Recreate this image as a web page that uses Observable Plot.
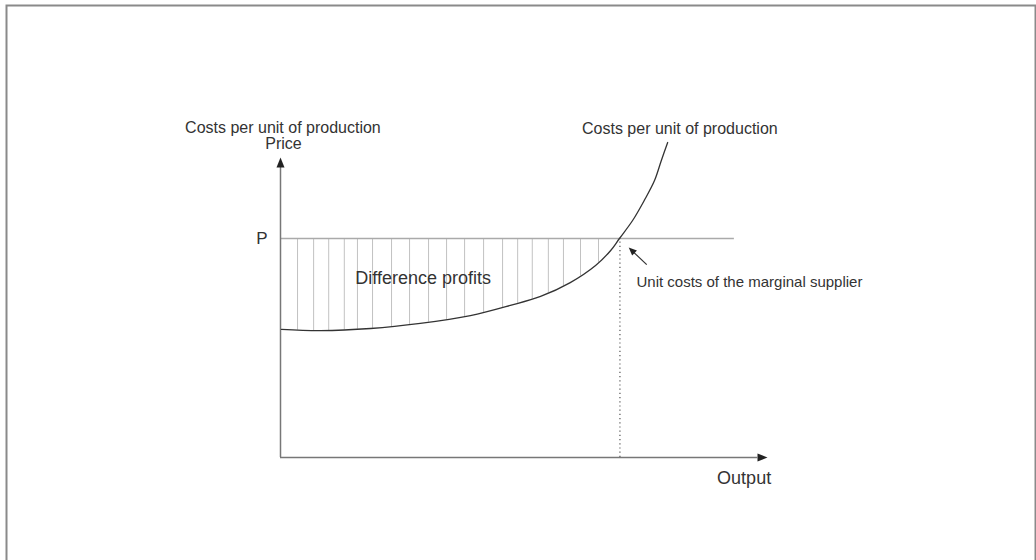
<!DOCTYPE html>
<html><head><meta charset="utf-8">
<script src="https://cdn.jsdelivr.net/npm/d3@7"></script>
<script src="https://cdn.jsdelivr.net/npm/@observablehq/plot@0.6"></script>
<style>html,body{margin:0;padding:0;background:#fff;} svg{display:block}</style>
</head><body><div id="chart"></div>
<script>
// Output (x, 0..100 = origin..arrow tip) and unit cost (y, 0..100 = origin..arrow tip)
const output   = [0.2, 8.2, 18.5, 28.7, 39.0, 47.2, 53.4, 59.5, 64.7, 67.8, 69.6, 72.3, 74.7, 76.8, 78.2, 79.5];
const unitCost = [42.7, 42.3, 43.0, 44.7, 47.3, 50.7, 53.7, 58.3, 64.0, 69.0, 73.0, 79.0, 85.7, 92.3, 99.0, 105.0];
const price = 73;
const marginalOutput = 69.7;
const hatchOutput = [3.5, 6.8, 9.9, 13.1, 15.8, 18.9, 22.8, 26.5, 30.4, 34.1, 37.8, 41.7, 45.6, 48.7, 51.7, 55.0, 58.1, 61.6, 65.3];
const yTitle = ["Costs per unit of production", "Price"];
const curveLabel = "Costs per unit of production";
const areaLabel = "Difference profits";
const marginalLabel = "Unit costs of the marginal supplier";
const xTitle = "Output";
const priceLabel = "P";

const curve = output.map((q, i) => ({q, c: unitCost[i]}));
const font = "Liberation Sans, Arial, Helvetica, sans-serif";
const tri = {draw(ctx, l, r) { ctx.moveTo(0, -l); ctx.lineTo(-r, 0); ctx.lineTo(r, 0); ctx.closePath(); }};

const chart = Plot.plot({
  width: 1036, height: 560, margin: 0,
  x: {domain: [0, 100], range: [280, 767], axis: null},
  y: {domain: [0, 100], range: [457, 157], axis: null},
  style: {fontFamily: font, background: "white"},
  marks: [
    Plot.frame({stroke: "#8a8a8a", strokeWidth: 2, insetLeft: 6, insetTop: 5, insetRight: 1, insetBottom: -8}),
    Plot.ruleX(hatchOutput, {y1: 38, y2: price, stroke: "#c2c2c2", strokeWidth: 1}),
    Plot.areaY(curve, {x: "q", y1: 38, y2: "c", fill: "white", curve: "catmull-rom"}),
    Plot.ruleY([price], {x1: 0, x2: 93.2, stroke: "#aaaaaa", strokeWidth: 1.5}),
    Plot.ruleX([marginalOutput], {y1: 0, y2: price, stroke: "#555", strokeWidth: 1.2, strokeDasharray: "1.2,3"}),
    Plot.ruleX([0], {y1: 0, y2: 97, stroke: "#777", strokeWidth: 1.5}),
    Plot.ruleY([0], {x1: 0, x2: 98, stroke: "#777", strokeWidth: 1.5}),
    Plot.vector([{q: 0, c: 100, r: 0}, {q: 100, c: 0, r: 90}], {x: "q", y: "c", rotate: "r", anchor: "end", length: 10, r: 4, shape: tri, fill: "#222", stroke: "none"}),
    Plot.line(curve, {x: "q", y: "c", curve: "catmull-rom", stroke: "#333", strokeWidth: 1.3}),
    Plot.link([0], {x1: 75.2, y1: 64.3, x2: 72.0, y2: 69.2, stroke: "#333", strokeWidth: 1.2}),
    Plot.vector([0], {x: 71.5, y: 70, rotate: -47, anchor: "end", length: 8, r: 3.5, shape: tri, fill: "#222", stroke: "none"}),
    Plot.text([yTitle[0]], {x: 0.5, y: 108.3, text: d => d, fontSize: 16, lineAnchor: "bottom", fill: "#333", fontFamily: font}),
    Plot.text([yTitle[1]], {x: 0.6, y: 102.7, text: d => d, fontSize: 16, lineAnchor: "bottom", fill: "#333", fontFamily: font}),
    Plot.text([curveLabel], {x: 82, y: 107.7, text: d => d, fontSize: 16, lineAnchor: "bottom", fill: "#333", fontFamily: font}),
    Plot.text([areaLabel], {x: 29.3, y: 58, text: d => d, fontSize: 18, lineAnchor: "bottom", fill: "#333", fontFamily: font}),
    Plot.text([marginalLabel], {x: 73.1, y: 56.7, text: d => d, fontSize: 15, textAnchor: "start", lineAnchor: "bottom", fill: "#333", fontFamily: font}),
    Plot.text([xTitle], {x: 95.2, y: -8.7, text: d => d, fontSize: 18, lineAnchor: "bottom", fill: "#333", fontFamily: font}),
    Plot.text([priceLabel], {x: -3.8, y: 71.3, text: d => d, fontSize: 17, lineAnchor: "bottom", fill: "#333", fontFamily: font})
  ]
});
document.getElementById("chart").append(chart);
</script>
</body></html>
